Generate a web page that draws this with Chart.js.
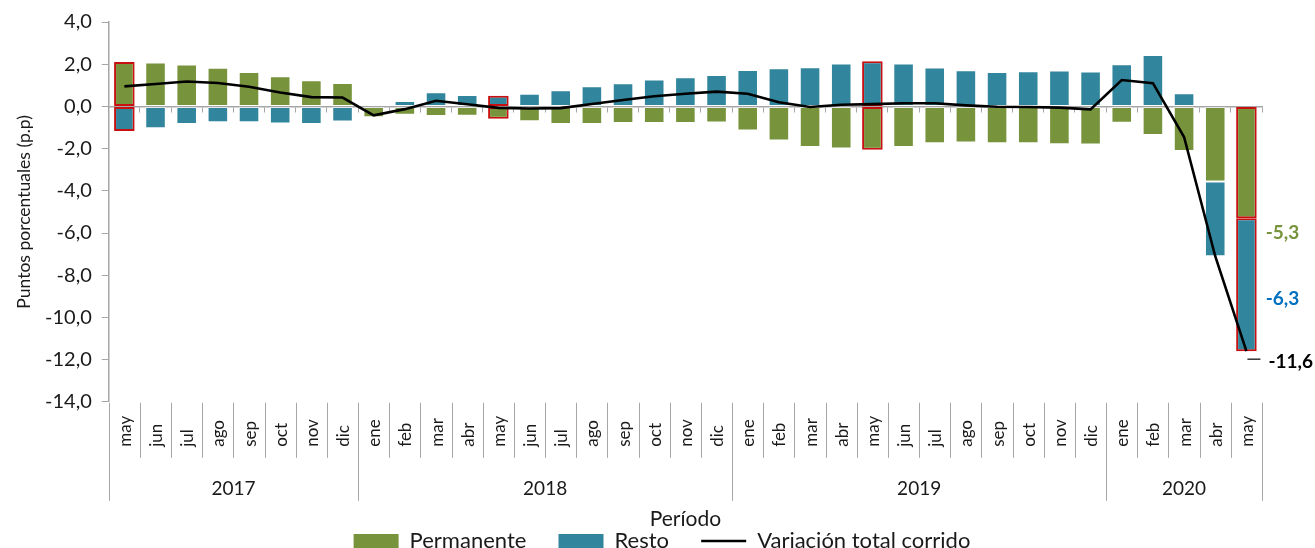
<!DOCTYPE html>
<html>
<head>
<meta charset="utf-8">
<script src="https://cdn.jsdelivr.net/npm/chart.js@4.4.0/dist/chart.umd.min.js"></script>
<style>
  html, body { margin: 0; padding: 0; background: #fff; }
  #wrap { width: 1315px; height: 548px; }
</style>
</head>
<body>
<div id="wrap"><canvas id="myChart" width="1315" height="548"></canvas></div>
<script>
// meses (may 2017 - may 2020)
const meses = [
  'may', 'jun', 'jul', 'ago', 'sep', 'oct', 'nov', 'dic',
  'ene', 'feb', 'mar', 'abr', 'may', 'jun', 'jul', 'ago', 'sep', 'oct', 'nov', 'dic',
  'ene', 'feb', 'mar', 'abr', 'may', 'jun', 'jul', 'ago', 'sep', 'oct', 'nov', 'dic',
  'ene', 'feb', 'mar', 'abr', 'may'
];
const anios = ['2017', '2018', '2019', '2020'];
const mesesPorAnio = [8, 12, 12, 5];

const permanente = [
  2.11, 2.08, 1.98, 1.83, 1.63, 1.43, 1.24, 1.11,
  -0.52, -0.39, -0.45, -0.44, -0.58, -0.70, -0.84, -0.84, -0.79, -0.79, -0.79, -0.76,
  -1.14, -1.62, -1.92, -2.00, -2.05, -1.92, -1.75, -1.71, -1.75, -1.75, -1.79, -1.80,
  -0.77, -1.35, -2.11, -3.56, -5.3
];
const resto = [
  -1.16, -1.03, -0.83, -0.75, -0.75, -0.81, -0.84, -0.71,
  0.10, 0.26, 0.67, 0.54, 0.51, 0.60, 0.76, 0.95, 1.10, 1.27, 1.38, 1.49,
  1.73, 1.81, 1.86, 2.03, 2.14, 2.03, 1.84, 1.71, 1.63, 1.67, 1.70, 1.65,
  2.00, 2.44, 0.62, -3.54, -6.3
];
const variacionTotal = [
  0.95, 1.06, 1.18, 1.11, 0.93, 0.66, 0.44, 0.42,
  -0.42, -0.13, 0.27, 0.10, -0.07, -0.10, -0.08, 0.11, 0.30, 0.48, 0.60, 0.70,
  0.60, 0.20, -0.03, 0.08, 0.11, 0.15, 0.15, 0.05, -0.02, -0.03, -0.06, -0.14,
  1.25, 1.10, -1.45, -7.10, -11.6
];

const verde = '#77933c';
const azul = '#31859c';
const rojo = '#c81010';
const gris = '#a6a6a6';
const texto = '#1a1a1a';
const fuente = "Lato, 'Liberation Sans', sans-serif";

const fmt = v => v.toFixed(1).replace('.', ',');

// mayo de cada año va con borde rojo
const resaltado = meses.map(m => m === 'may');

// eje de categorias en dos niveles (mes / año)
const ejeMultinivel = {
  id: 'ejeMultinivel',
  afterLayout(chart) {
    // la leyenda va centrada un poco a la derecha
    if (chart.legend) {
      chart.legend.left += 24;
      chart.legend.right += 24;
    }
  },
  afterDraw(chart) {
    const c = chart.ctx;
    const xs = chart.scales.x;
    const y0 = chart.chartArea.bottom;
    const n = meses.length;
    const ancho = xs.width / n;
    const borde = i => (i < n ? xs.getPixelForValue(i) - ancho / 2 : xs.getPixelForValue(n - 1) + ancho / 2);

    const cortes = [0];
    mesesPorAnio.forEach(m => cortes.push(cortes[cortes.length - 1] + m));

    c.save();
    c.strokeStyle = gris;
    c.lineWidth = 1;
    for (let i = 0; i <= n; i++) {
      const x = Math.round(borde(i)) + 0.5;
      c.beginPath();
      c.moveTo(x, y0 + 1);
      c.lineTo(x, y0 + (cortes.includes(i) ? 99 : 56));
      c.stroke();
    }

    c.fillStyle = texto;
    c.font = '17px ' + fuente;
    c.textAlign = 'left';
    c.textBaseline = 'middle';
    meses.forEach((m, i) => {
      c.save();
      c.translate(xs.getPixelForValue(i) + 1, y0 + 45);
      c.rotate(-Math.PI / 2);
      c.fillText(m, 0, 0);
      c.restore();
    });

    c.font = '19px ' + fuente;
    c.textAlign = 'center';
    anios.forEach((a, k) => {
      const x = (borde(cortes[k]) + borde(cortes[k + 1])) / 2;
      c.fillText(a, x, y0 + 87);
    });
    c.restore();
  }
};

// etiquetas del ultimo mes
const etiquetasFinales = {
  id: 'etiquetasFinales',
  afterDatasetsDraw(chart) {
    const c = chart.ctx;
    const i = meses.length - 1;
    const barP = chart.getDatasetMeta(0).data[i];
    const barR = chart.getDatasetMeta(1).data[i];
    const pt = chart.getDatasetMeta(2).data[i];
    const xTxt = barP.x + barP.width / 2 + 9;
    c.save();
    c.font = 'bold 19px ' + fuente;
    c.textBaseline = 'middle';
    c.textAlign = 'left';
    c.fillStyle = verde;
    c.fillText(fmt(permanente[i]), xTxt, barP.y + 15);
    c.fillStyle = '#0070c0';
    c.fillText(fmt(resto[i]), xTxt, (barR.y + barR.base) / 2 + 14);
    c.strokeStyle = '#000';
    c.lineWidth = 1.2;
    c.beginPath();
    c.moveTo(pt.x + 1, pt.y + 8);
    c.lineTo(pt.x + 14, pt.y + 8);
    c.stroke();
    c.fillStyle = '#000';
    c.fillText(fmt(variacionTotal[i]), pt.x + 22, pt.y + 11);
    c.restore();
  }
};

const ctx = document.getElementById('myChart').getContext('2d');
new Chart(ctx, {
  type: 'bar',
  data: {
    labels: meses,
    datasets: [
      {
        label: 'Permanente',
        data: permanente,
        backgroundColor: verde,
        borderColor: resaltado.map(r => r ? rojo : 'rgba(255,255,255,0.45)'),
        borderWidth: resaltado.map(r => r ? 2 : 1),
        borderSkipped: false,
        barPercentage: 0.66,
        categoryPercentage: 1,
        order: 1
      },
      {
        label: 'Resto',
        data: resto,
        backgroundColor: azul,
        borderColor: resaltado.map(r => r ? rojo : 'rgba(255,255,255,0.45)'),
        borderWidth: resaltado.map(r => r ? 2 : 1),
        borderSkipped: false,
        barPercentage: 0.66,
        categoryPercentage: 1,
        order: 1
      },
      {
        type: 'line',
        label: 'Variación total corrido',
        data: variacionTotal,
        borderColor: '#000',
        backgroundColor: '#000',
        borderWidth: 2.6,
        pointRadius: 0,
        tension: 0,
        fill: false,
        order: 0
      }
    ]
  },
  options: {
    responsive: false,
    animation: false,
    layout: { padding: { top: 7, left: 14, right: 53, bottom: -14 } },
    plugins: {
      tooltip: { enabled: false },
      legend: {
        position: 'bottom',
        labels: {
          usePointStyle: true,
          pointStyleWidth: 45,
          boxHeight: 14,
          padding: 4,
          color: texto,
          font: { family: fuente, size: 22 },
          sort: (a, b) => a.datasetIndex - b.datasetIndex,
          generateLabels: chart => {
            const items = Chart.defaults.plugins.legend.labels.generateLabels(chart);
            items.forEach(it => {
              const ds = chart.data.datasets[it.datasetIndex];
              if (ds.type === 'line') {
                it.pointStyle = 'line';
                it.strokeStyle = '#000';
                it.lineWidth = 2.5;
              } else {
                // espacio entre entradas de la leyenda
                it.text = it.text + '     ';
                it.pointStyle = 'rect';
                it.fillStyle = ds.backgroundColor;
                it.strokeStyle = ds.backgroundColor;
                it.lineWidth = 0;
              }
            });
            return items;
          }
        }
      }
    },
    scales: {
      x: {
        type: 'category',
        position: 'bottom',
        stacked: true,
        offset: true,
        grid: { display: false, drawTicks: false },
        border: { display: false },
        ticks: { display: false },
        title: {
          display: true, text: 'Período', color: texto,
          font: { family: fuente, size: 21 }, padding: { top: 105, bottom: -6 }
        }
      },
      xCero: {
        type: 'category',
        position: { y: 0 },
        offset: true,
        grid: { offset: true, drawOnChartArea: false, tickLength: 5, color: gris },
        border: { color: gris, width: 1.5 },
        ticks: { display: false }
      },
      y: {
        stacked: true,
        min: -14,
        max: 4,
        ticks: {
          stepSize: 2, padding: 10, color: texto,
          font: { family: fuente, size: 20 },
          callback: v => fmt(v)
        },
        grid: { drawOnChartArea: false, tickLength: 7, color: gris },
        border: { color: gris, width: 1.5 },
        title: {
          display: true, text: 'Puntos porcentuales (p.p)', color: texto,
          font: { family: fuente, size: 17.5 }, padding: { top: 0, bottom: 0 }
        }
      }
    }
  },
  plugins: [ejeMultinivel, etiquetasFinales]
});
</script>
</body>
</html>
